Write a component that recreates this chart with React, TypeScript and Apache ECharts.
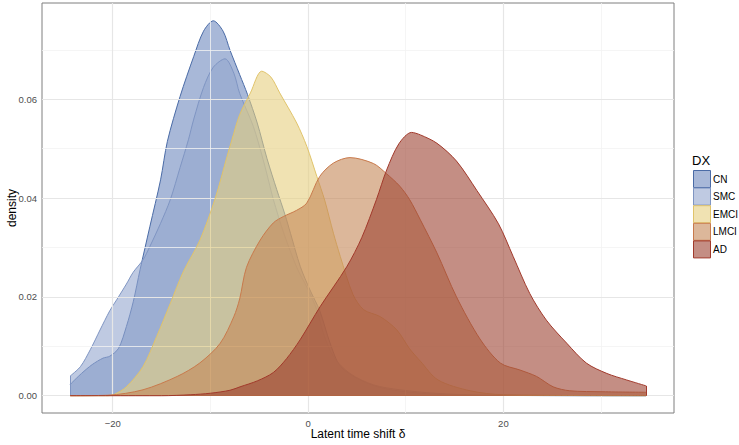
import React, { useEffect, useRef } from "react";
import * as echarts from "echarts";

const categories = ["CN", "SMC", "EMCI", "LMCI", "AD"];

const cnDensity: number[][] = [
  [-24.35, 0.0023], [-23.2, 0.0045], [-22.1, 0.0063], [-21.0, 0.0076], [-20.3, 0.008],
  [-19.4, 0.0096], [-18.6, 0.014], [-17.9, 0.019], [-17.2, 0.0255], [-16.2, 0.0342],
  [-15.1, 0.0437], [-14.4, 0.0515], [-13.1, 0.0606], [-11.7, 0.0687], [-10.7, 0.0738],
  [-9.7, 0.0759], [-8.7, 0.0738], [-8.0, 0.07], [-7.0, 0.065], [-6.2, 0.061],
  [-5.2, 0.0552], [-4.2, 0.048], [-3.2, 0.0417], [-2.35, 0.0366], [-1.8, 0.0329],
  [-0.8, 0.0262], [0.2, 0.0214], [1.2, 0.0172], [2.25, 0.0107], [3.3, 0.006],
  [5.3, 0.0032], [7.7, 0.0015], [11.5, 0.0005], [16, 0.0001], [34.6, 0],
];

const smcDensity: number[][] = [
  [-24.35, 0.004], [-23.3, 0.0059], [-22.3, 0.0093], [-21.3, 0.0133], [-20.3, 0.0172],
  [-19.6, 0.0194], [-18.6, 0.0226], [-17.9, 0.025], [-16.9, 0.0275], [-16.2, 0.0302],
  [-15.1, 0.0349], [-14.1, 0.0397], [-13.1, 0.0462], [-12.25, 0.0518], [-11.7, 0.056],
  [-10.7, 0.0624], [-9.7, 0.0665], [-8.5, 0.0682], [-7.6, 0.0653], [-7.0, 0.0612],
  [-5.6, 0.0545], [-4.6, 0.0478], [-3.9, 0.0424], [-3.55, 0.0397], [-2.5, 0.033],
  [-1.16, 0.026], [-0.13, 0.022], [0.9, 0.0174], [1.57, 0.0126], [2.6, 0.0079],
  [4.3, 0.0045], [6.7, 0.0022], [9.4, 0.0012], [13, 0.0005], [18, 0.0001], [34.6, 0],
];

const emciDensity: number[][] = [
  [-24.35, 0], [-20.5, 0], [-19.9, 0.0002], [-18.6, 0.0018], [-16.9, 0.0059],
  [-15.5, 0.012], [-14.1, 0.0187], [-12.8, 0.025], [-11.05, 0.0316], [-9.5, 0.04],
  [-8.3, 0.0484], [-7.8, 0.0518], [-7.0, 0.0569], [-5.9, 0.0613], [-4.74, 0.0657],
  [-3.8, 0.0645], [-2.9, 0.0613], [-1.16, 0.0552], [-0.13, 0.0505], [0.9, 0.0444],
  [1.7, 0.0396], [2.6, 0.0329], [3.3, 0.0282], [4.6, 0.0205], [5.7, 0.0174],
  [7.4, 0.016], [9.1, 0.0133], [10.4, 0.0095], [11.5, 0.007], [13.3, 0.0032],
  [16.6, 0.001], [20, 0.0002], [34.6, 0],
];

const lmciDensity: number[][] = [
  [-24.35, 0], [-20.5, 0.0001], [-16.9, 0.0012], [-13.4, 0.0039], [-11.1, 0.0066],
  [-9.0, 0.0106], [-7.6, 0.016], [-7.0, 0.0196], [-6.3, 0.026], [-4.9, 0.0315],
  [-3.55, 0.035], [-2.5, 0.0363], [-1.2, 0.0375], [-0.13, 0.039], [1.2, 0.0444],
  [2.6, 0.0471], [4.3, 0.0482], [6.7, 0.047], [8.0, 0.045], [9.4, 0.0424],
  [10.4, 0.0397], [11.5, 0.0356], [13.2, 0.0289], [15.2, 0.02], [17.6, 0.0115],
  [19.7, 0.0066], [21.7, 0.0052], [23.4, 0.0039], [25.1, 0.0018], [26.8, 0.001],
  [30.2, 0.0008], [34.6, 0.0007],
];

const adDensity: number[][] = [
  [-24.35, 0], [-15, 0], [-12, 0.0002], [-10, 0.0005], [-8, 0.0011],
  [-6.96, 0.0018], [-5.2, 0.003], [-3.55, 0.0047], [-2.2, 0.0075], [-0.82, 0.0113],
  [1.23, 0.018], [3.96, 0.0261], [5.5, 0.032], [7.0, 0.0397], [8.05, 0.0457],
  [9.3, 0.051], [10.6, 0.0533], [11.5, 0.0528], [13.2, 0.0511], [15.2, 0.0475],
  [17.3, 0.0415], [19.5, 0.0348], [21.0, 0.0282], [22.7, 0.0207], [24.4, 0.0153],
  [26.5, 0.0106], [28.5, 0.0066], [30.6, 0.0045], [32.6, 0.0032], [34.6, 0.002],
];

const xTickLabels = [-20, 0, 20];
const yTickLabels = [0, 0.02, 0.04, 0.06];
const xMinorGrid = [-30, -10, 10, 30];
const yMinorGrid = [0.01, 0.03, 0.05, 0.07];

const fillColors = ["#6e89be", "#94a7cf", "#e6cf7f", "#c58757", "#9d4332"];
const lineColors = ["#4a6ba6", "#7f95c2", "#e0c36a", "#c87a4c", "#a1392b"];
const FILL_ALPHA = 0.6;

function withAlpha(hex: string, a: number) {
  const r = parseInt(hex.slice(1, 3), 16);
  const g = parseInt(hex.slice(3, 5), 16);
  const b = parseInt(hex.slice(5, 7), 16);
  return `rgba(${r},${g},${b},${a})`;
}

const FONT = "'Liberation Sans', Arial, Helvetica, sans-serif";

export default function App() {
  const ref = useRef<HTMLDivElement>(null);

  useEffect(() => {
    if (!ref.current) return;
    const chart = echarts.init(ref.current, undefined, { renderer: "svg" });
    const all = [cnDensity, smcDensity, emciDensity, lmciDensity, adDensity];

    const edgeLines = (d: number[][]) => {
      const first = d[0];
      const last = d[d.length - 1];
      const segs: any[] = [[{ coord: [first[0], 0] }, { coord: [last[0], 0] }]];
      if (first[1] > 0) segs.push([{ coord: [first[0], 0] }, { coord: [first[0], first[1]] }]);
      if (last[1] > 0) segs.push([{ coord: [last[0], 0] }, { coord: [last[0], last[1]] }]);
      return segs;
    };

    const densitySeries = categories.map((name, i) => ({
      name,
      type: "line",
      data: all[i],
      smooth: 0.3,
      showSymbol: false,
      symbol: "none",
      z: 3 + i,
      lineStyle: { color: lineColors[i], width: 1 },
      itemStyle: { color: lineColors[i] },
      areaStyle: { color: fillColors[i], opacity: FILL_ALPHA, origin: 0 },
      emphasis: { disabled: true },
      markLine: {
        silent: true,
        symbol: ["none", "none"],
        label: { show: false },
        emphasis: { disabled: true },
        lineStyle: { color: lineColors[i], width: 1, type: "solid" },
        data: edgeLines(all[i]),
      },
    }));

    const major = { color: "#e6e6e6", width: 1.2, type: "solid" };
    const minor = { color: "#f2f2f2", width: 0.8, type: "solid" };
    const gridSeries = {
      name: "grid",
      type: "line",
      data: [],
      z: 1,
      silent: true,
      markLine: {
        silent: true,
        symbol: ["none", "none"],
        label: { show: false },
        emphasis: { disabled: true },
        data: [
          ...xMinorGrid.map((v) => ({ xAxis: v, lineStyle: minor })),
          ...yMinorGrid.map((v) => ({ yAxis: v, lineStyle: minor })),
          ...xTickLabels.map((v) => ({ xAxis: v, lineStyle: major })),
          ...yTickLabels.map((v) => ({ yAxis: v, lineStyle: major })),
        ],
      },
    };

    const keyTop = 170;
    const keyStep = 17.6;
    const legendGraphics: any[] = [
      {
        type: "text",
        left: 692,
        top: 154,
        style: { text: "DX", fontSize: 13, fill: "#000", fontFamily: FONT },
      },
    ];
    categories.forEach((name, i) => {
      legendGraphics.push({
        type: "rect",
        shape: { x: 693.5, y: keyTop + 0.5 + i * keyStep, width: 17, height: 17 },
        style: { fill: withAlpha(fillColors[i], FILL_ALPHA), stroke: lineColors[i], lineWidth: 1 },
      });
      legendGraphics.push({
        type: "text",
        x: 713,
        y: keyTop + 9 + i * keyStep,
        style: {
          text: name,
          fontSize: 10,
          fill: "#000",
          fontFamily: FONT,
          verticalAlign: "middle",
          align: "left",
        },
      });
    });

    chart.setOption({
      animation: false,
      textStyle: { fontFamily: FONT },
      grid: {
        left: 42,
        top: 3,
        right: 65,
        bottom: 32,
        outerBoundsMode: "none",
        containLabel: false,
        show: true,
        borderColor: "#7f7f7f",
        borderWidth: 1,
        backgroundColor: "#ffffff",
      },
      xAxis: {
        type: "value",
        min: -27.24,
        max: 37.47,
        name: "Latent time shift δ",
        nameLocation: "middle",
        nameGap: 15,
        nameMoveOverlap: false,
        nameTextStyle: { fontSize: 12, color: "#000", fontFamily: FONT },
        axisLine: { show: false },
        splitLine: { show: false },
        axisTick: { show: true, length: 3, customValues: xTickLabels, lineStyle: { color: "#333" } },
        axisLabel: {
          customValues: xTickLabels,
          margin: 5,
          fontSize: 9.5,
          color: "#4d4d4d",
          fontFamily: FONT,
          formatter: (v: number) => (v < 0 ? "\u2212" + Math.abs(v) : String(v)),
        },
      },
      yAxis: {
        type: "value",
        min: -0.0035,
        max: 0.0795,
        name: "density",
        nameLocation: "middle",
        nameGap: 24,
        nameRotate: 90,
        nameMoveOverlap: false,
        nameTextStyle: { fontSize: 12, color: "#000", fontFamily: FONT },
        axisLine: { show: false },
        splitLine: { show: false },
        axisTick: { show: true, length: 3, customValues: yTickLabels, lineStyle: { color: "#333" } },
        axisLabel: {
          customValues: yTickLabels,
          margin: 5,
          fontSize: 9.5,
          color: "#4d4d4d",
          fontFamily: FONT,
          formatter: (v: number) => v.toFixed(2),
        },
      },
      graphic: legendGraphics,
      series: [gridSeries, ...densitySeries],
    });

    return () => chart.dispose();
  }, []);

  return (
    <div
      ref={ref}
      style={{ position: "fixed", left: 0, top: 0, width: 739, height: 445, background: "#fff" }}
    />
  );
}
